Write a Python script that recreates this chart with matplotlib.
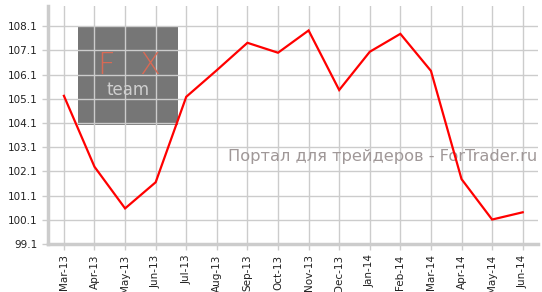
import matplotlib
matplotlib.use("Agg")
import matplotlib.pyplot as plt
from matplotlib.patches import Rectangle

months = ["Mar-13", "Apr-13", "May-13", "Jun-13", "Jul-13", "Aug-13", "Sep-13", "Oct-13",
          "Nov-13", "Dec-13", "Jan-14", "Feb-14", "Mar-14", "Apr-14", "May-14", "Jun-14"]
values = [105.22, 102.29, 100.57, 101.65, 105.18, 106.28, 107.41, 107.0,
          107.92, 105.46, 107.04, 107.78, 106.25, 101.78, 100.11, 100.41]
yticks = [99.1, 100.1, 101.1, 102.1, 103.1, 104.1, 105.1, 106.1, 107.1, 108.1]

fig = plt.figure(figsize=(5.42, 2.92), dpi=100)
ax = fig.add_axes([48/542, (292-244)/292, (538-48)/542, (244-6)/292])

x = list(range(len(months)))
ax.plot(x, values, color="#ff0000", lw=1.6, zorder=5, solid_joinstyle="miter")

ax.set_xlim(-0.52, 15.5)
ax.set_ylim(99.1, 108.93)
ax.set_xticks(x)
ax.set_xticklabels(months, rotation=90, fontsize=7.5, color="#222222")
ax.set_yticks(yticks)
ax.set_yticklabels([f"{v:.1f}" for v in yticks], fontsize=7.5, color="#222222")
ax.grid(True, color="#cccccc", lw=1, zorder=2)
ax.set_axisbelow(False)
for s in ["top", "right"]:
    ax.spines[s].set_visible(False)
for s in ["left", "bottom"]:
    ax.spines[s].set_color("#cccccc")
    ax.spines[s].set_linewidth(2.5)
ax.tick_params(axis="both", colors="#cccccc", length=4, width=1, labelcolor="#222222")

tf = fig.transFigure
# watermark logo box
ax.add_patch(Rectangle((78/542, (292-125)/292), 100/542, 99/292, transform=tf,
                       facecolor="#767676", edgecolor="none", zorder=1))
ax.text(106/542, (292-65)/292, "F", color="#d86a55", fontsize=22, ha="center", va="center",
        fontweight="light", transform=tf, zorder=3)
ax.text(150/542, (292-65)/292, "X", color="#d86a55", fontsize=22, ha="center", va="center",
        fontweight="light", transform=tf, zorder=3)
ax.text(128/542, (292-90)/292, "team", color="#cfcfcf", fontsize=12, ha="center", va="center",
        transform=tf, zorder=3)
ax.text(537/542, (292-157)/292, "Портал для трейдеров - ForTrader.ru", color="#a09898",
        fontsize=11.7, ha="right", va="center", transform=tf, zorder=3)

fig.savefig("out.png", dpi=100)
